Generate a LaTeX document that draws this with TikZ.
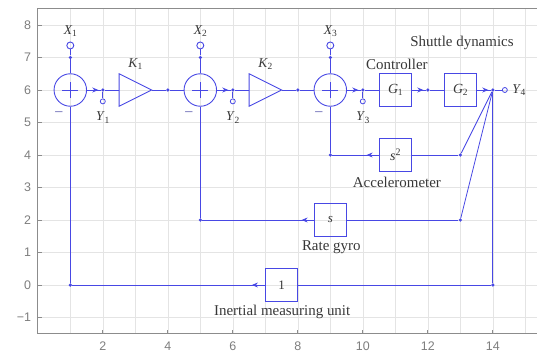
\documentclass[tikz,border=0pt]{standalone}
\usepackage{fontspec}
\setmainfont{Liberation Serif}
\newfontfamily\ticksfont{Liberation Sans}
\usetikzlibrary{arrows.meta,decorations.markings}
\definecolor{wire}{RGB}{72,72,228}
\definecolor{gridc}{RGB}{228,228,228}
\definecolor{framec}{RGB}{140,140,140}
\definecolor{ticktxt}{RGB}{125,125,125}
\definecolor{txt}{RGB}{55,55,55}
\newcommand\varsub[2]{\textit{#1}\kern-0.3pt\raisebox{-0.35ex}{\fontsize{9.5}{9.5}\selectfont #2}}
\begin{document}
\begin{tikzpicture}[x=32.5bp,y=32.5bp,
  wirest/.style={draw=wire,line width=0.8bp},
  sumst/.style={circle,draw=wire,line width=0.9bp,minimum size=32.5bp,inner sep=0pt},
  boxst/.style={rectangle,draw=wire,line width=0.8bp,minimum size=32.5bp,inner sep=0pt,text=txt,font=\fontsize{14}{14}\selectfont},
  dotst/.style={circle,fill=wire,inner sep=0pt,minimum size=3.6bp},
  xterm/.style={circle,draw=wire,line width=0.9bp,inner sep=0pt,minimum size=7bp},
  yterm/.style={circle,draw=wire,line width=0.8bp,inner sep=0pt,minimum size=5bp},
  lbl/.style={text=txt,font=\fontsize{15}{15}\selectfont,inner sep=0pt},
  varl/.style={text=txt,font=\fontsize{13.5}{13.5}\selectfont,inner sep=0pt},
  minusl/.style={text=wire!50!gray,font=\fontsize{16}{16}\selectfont,inner sep=0pt},
  tickl/.style={text=ticktxt,font=\ticksfont\fontsize{12.5}{12.5}\selectfont,inner sep=0pt},
  arrowat/.style={postaction={decorate},decoration={markings,mark=at position #1 with {\arrow{Stealth[length=6bp,width=5bp]}}}}
]
\useasboundingbox (-1.1631,-2.0615) rectangle (15.3600,8.7692);
% grid
\foreach \gx in {1,...,15} \draw[gridc,line width=0.6bp] (\gx,-1.5) -- (\gx,8.5);
\foreach \gy in {-1,...,8} \draw[gridc,line width=0.6bp] (0,\gy) -- (15.36,\gy);
% frame
\draw[framec,line width=1.2bp] (15.36,8.5) -- (0,8.5) -- (0,-1.5) -- (15.36,-1.5);
\foreach \gy in {-1,...,8} {
  \draw[framec,line width=0.8bp] (0,\gy) -- (0.12,\gy);
  \node[tickl,anchor=east] (ly\gy) at (-0.2,\gy) {\ifnum\gy<0 −1\else\gy\fi};
}
\foreach \gx in {2,4,...,14} {
  \draw[framec,line width=0.8bp] (\gx,-1.5) -- (\gx,-1.38);
  \node[tickl] (lx\gx) at (\gx,-1.88) {\gx};
}
% summing junctions
\foreach \n/\sx in {1/1,2/5,3/9} {
  \node[sumst] (sum\n) at (\sx,6) {};
  \draw[wire,line width=0.8bp] (\sx-0.25,6) -- (\sx+0.25,6) (\sx,5.75) -- (\sx,6.25);
  \node[dotst] (xd\n) at (\sx,7) {};
  \node[xterm] (xt\n) at (\sx,7.37) {};
  \node[varl] (xl\n) at (\sx,7.8) {\varsub{X}{\n}};
  \node[minusl] (mn\n) at (\sx-0.35,5.25) {−};
  \node[dotst] (yd\n) at (\sx+1,6) {};
  \node[yterm] (yt\n) at (\sx+1,5.65) {};
  \node[varl] (yl\n) at (\sx+1,5.15) {\varsub{Y}{\n}};
  \draw[wirest] (xt\n) -- (xd\n) -- (sum\n.north);
  \draw[wirest,arrowat=-2.5bp] (sum\n.east) -- (yd\n);
  \draw[wirest] (yd\n) -- (yt\n);
}
% gains
\foreach \n/\kx in {1/2.5,2/6.5} {
  \draw[wire,line width=0.9bp,line join=miter] (\kx,6.5) -- (\kx,5.5) -- (\kx+1,6) -- cycle;
  \coordinate (kin\n) at (\kx,6);
  \coordinate (kout\n) at (\kx+1,6);
  \node[varl] (kl\n) at (\kx+0.5,6.8) {\varsub{K}{\n}};
}
\node[dotst] (d4) at (4,6) {};
\node[dotst] (d8) at (8,6) {};
\draw[wirest] (yd1) -- (kin1);
\draw[wirest] (kout1) -- (d4) -- (sum2.west);
\draw[wirest] (yd2) -- (kin2);
\draw[wirest] (kout2) -- (d8) -- (sum3.west);
% controller and plant
\node[boxst] (g1) at (11,6) {\varsub{G}{1}};
\node[boxst] (g2) at (13,6) {\varsub{G}{2}};
\node[dotst] (d12) at (12,6) {};
\node[dotst] (d14) at (14,6) {};
\node[yterm] (yt4) at (14.37,6) {};
\node[varl] (yl4) at (14.8,6) {\varsub{Y}{4}};
\node[lbl] (ctrl) at (11.05,6.8) {Controller};
\node[lbl] (shut) at (13.05,7.45) {Shuttle dynamics};
\draw[wirest] (yd3) -- (g1.west);
\draw[wirest,arrowat=-2.5bp] (g1.east) -- (d12);
\draw[wirest] (d12) -- (g2.west);
\draw[wirest,arrowat=-2.5bp] (g2.east) -- (d14);
\draw[wirest] (d14) -- (yt4);
% feedback paths
\node[boxst] (acc) at (11,4) {\textit{s}\raisebox{0.75ex}{\fontsize{10}{10}\selectfont 2}};
\node[boxst,font=\fontsize{13}{13}\selectfont] (gyro) at (9,2) {\textit{s}};
\node[boxst,font=\fontsize{13}{13}\selectfont] (imu) at (7.5,0) {1};
\node[lbl] (accl) at (11.05,3.15) {Accelerometer};
\node[lbl] (gyrol) at (9.03,1.15) {Rate gyro};
\node[lbl] (imul) at (7.52,-0.82) {Inertial measuring unit};
\node[dotst] (a13) at (13,4) {};
\node[dotst] (r13) at (13,2) {};
\node[dotst] (i14) at (14,0) {};
\node[dotst] (a9) at (9,4) {};
\node[dotst] (r5) at (5,2) {};
\node[dotst] (i1) at (1,0) {};
\draw[wirest] (d14) -- (a13);
\draw[wirest] (d14) -- (r13);
\draw[wirest] (d14) -- (i14);
\draw[wirest] (a13) -- (acc.east);
\draw[wirest] (r13) -- (gyro.east);
\draw[wirest] (i14) -- (imu.east);
\draw[wirest,arrowat=12bp] (acc.west) -- (a9);
\draw[wirest,arrowat=12bp] (gyro.west) -- (r5);
\draw[wirest,arrowat=13bp] (imu.west) -- (i1);
\draw[wirest] (a9) -- (sum3.south);
\draw[wirest] (r5) -- (sum2.south);
\draw[wirest] (i1) -- (sum1.south);
\end{tikzpicture}
\end{document}
